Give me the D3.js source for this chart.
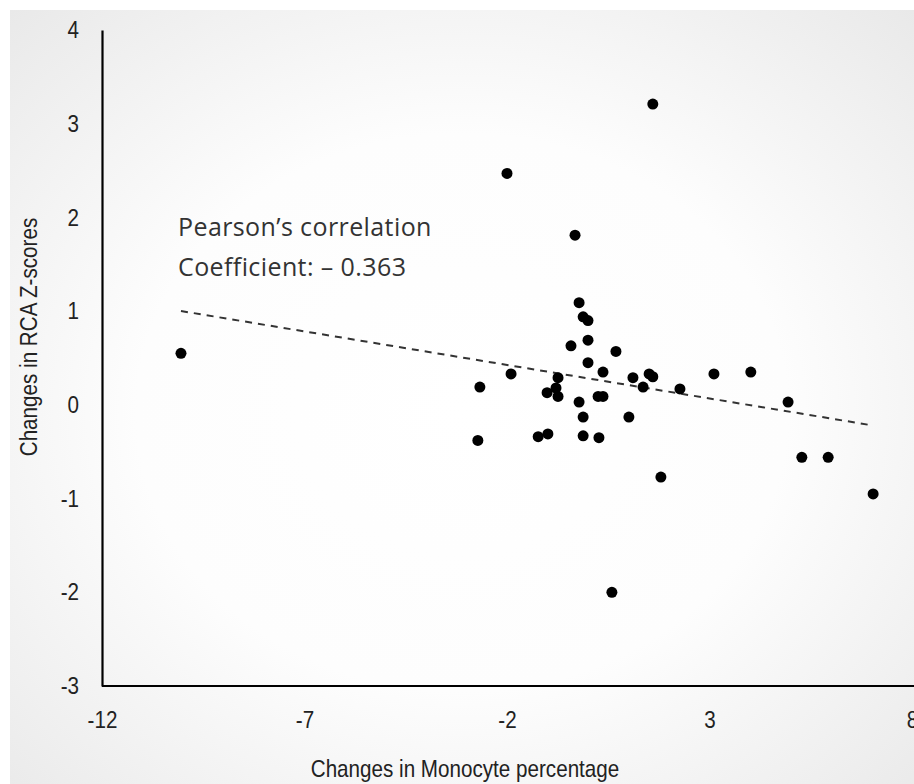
<!DOCTYPE html>
<html>
<head>
<meta charset="utf-8">
<script src="https://cdn.jsdelivr.net/npm/d3@7"></script>
<style>
  body { margin: 0; background: #fff; }
  .axis text { font-family: "Liberation Sans", Arial, sans-serif; font-size: 24px; fill: #222; }
  .axis path { stroke: #000; stroke-width: 2.2; }
  .title { font-family: "Liberation Sans", Arial, sans-serif; font-size: 24px; fill: #222; }
  .note { font-family: "Open Sans", sans-serif; font-size: 25px; letter-spacing: 0.4px; fill: #333; }
</style>
</head>
<body>
<svg id="chart" width="914" height="784"></svg>
<script>
// tick values
var xTicks = [-12, -7, -2, 3, 8];
var yTicks = [-3, -2, -1, 0, 1, 2, 3, 4];

// change in monocyte percentage (x) and RCA z-score change (y), per subject
var monocyteChange = [-10.05, -2.72, -2.67, -2.0, -1.90, 1.60, -0.32, -0.22, -0.12, 0.0,
    -0.42, 0.0, 0.69, 0.0, 0.37, -0.74, -0.79, -0.74, -1.01, -0.99,
    -1.23, -0.22, -0.12, -0.12, 0.25, 0.37, 0.27, 1.01, 1.11, 1.36,
    1.51, 1.60, 2.27, 3.11, 4.02, 4.94, 5.28, 5.93, 7.04, 1.80, 0.59];
var rcaChange = [0.55, -0.38, 0.19, 2.47, 0.33, 3.21, 1.81, 1.09, 0.94, 0.90,
    0.63, 0.69, 0.57, 0.45, 0.35, 0.29, 0.18, 0.09, 0.13, -0.31,
    -0.34, 0.03, -0.13, -0.33, 0.09, 0.09, -0.35, -0.13, 0.29, 0.19,
    0.33, 0.30, 0.17, 0.33, 0.35, 0.03, -0.56, -0.56, -0.95, -0.77, -2.00];

var noteLines = ["Pearson\u2019s correlation", "Coefficient: \u2013 0.363"];

var svg = d3.select("#chart");
var narrow = 0.86; // squeeze glyphs a bit, the original font is condensed

// soft grey vignette behind the chart
var defs = svg.append("defs");
var grad = defs.append("radialGradient")
    .attr("id", "bg")
    .attr("cx", "0.5").attr("cy", "0.52").attr("r", "0.72");
grad.append("stop").attr("offset", "0").attr("stop-color", "#ffffff");
grad.append("stop").attr("offset", "0.5").attr("stop-color", "#fdfdfd");
grad.append("stop").attr("offset", "1").attr("stop-color", "#e9e9e9");

svg.append("rect")
    .attr("x", 10).attr("y", 10)
    .attr("width", 904).attr("height", 774)
    .attr("fill", "url(#bg)");

var x = d3.scaleLinear().domain([-12, 8]).range([102, 912]);
var y = d3.scaleLinear().domain([-3, 4]).range([686, 30]);

var data = monocyteChange.map(function(d, i) {
    return { x: d, y: rcaChange[i] };
});

// plain hyphen for negatives, like the original
var fmt = function(d) { return String(d); };

svg.append("g")
    .attr("class", "axis axis--x")
    .attr("transform", "translate(0," + y(-3) + ")")
    .call(d3.axisBottom(x).tickValues(xTicks).tickSize(0).tickPadding(25).tickFormat(fmt))
    .call(function(g) {
        g.selectAll(".tick line").remove();
        g.selectAll(".tick text").attr("transform", "scale(" + narrow + ",1)");
    })
    .select(".domain").attr("d", "M" + x(-12) + ",0H914");

svg.append("g")
    .attr("class", "axis axis--y")
    .attr("transform", "translate(" + x(-12) + ",0)")
    .call(d3.axisLeft(y).tickValues(yTicks).tickSize(0).tickFormat(fmt))
    .call(function(g) {
        g.selectAll(".tick line").remove();
        g.selectAll(".tick text")
            .attr("x", -23 / narrow)
            .attr("transform", "scale(" + narrow + ",1)");
    });

// axis titles
svg.append("text")
    .attr("class", "title")
    .attr("transform", "translate(465,777) scale(" + narrow + ",1)")
    .attr("text-anchor", "middle")
    .text("Changes in Monocyte percentage");

svg.append("text")
    .attr("class", "title")
    .attr("transform", "translate(37,337) rotate(-90) scale(" + narrow + ",1)")
    .attr("text-anchor", "middle")
    .text("Changes in RCA Z-scores");

// least-squares trend line over the data range
var mx = d3.mean(data, function(d) { return d.x; });
var my = d3.mean(data, function(d) { return d.y; });
var slope = d3.sum(data, function(d) { return (d.x - mx) * (d.y - my); }) /
    d3.sum(data, function(d) { return (d.x - mx) * (d.x - mx); });
var xr = d3.extent(data, function(d) { return d.x; });
var trend = xr.map(function(v) { return { x: v, y: my + slope * (v - mx) }; });

svg.append("path")
    .datum(trend)
    .attr("fill", "none")
    .attr("stroke", "#333")
    .attr("stroke-width", 2)
    .attr("stroke-dasharray", "7,6")
    .attr("d", d3.line().x(function(d) { return x(d.x); }).y(function(d) { return y(d.y); }));

svg.append("g")
    .selectAll("circle")
    .data(data)
    .enter().append("circle")
    .attr("cx", function(d) { return x(d.x); })
    .attr("cy", function(d) { return y(d.y); })
    .attr("r", 5.5)
    .attr("fill", "#000");

svg.append("text")
    .attr("class", "note")
    .attr("x", 178)
    .attr("y", 236)
    .selectAll("tspan")
    .data(noteLines)
    .enter().append("tspan")
    .attr("x", 178)
    .attr("dy", function(d, i) { return i ? 40 : 0; })
    .text(function(d) { return d; });
</script>
</body>
</html>
